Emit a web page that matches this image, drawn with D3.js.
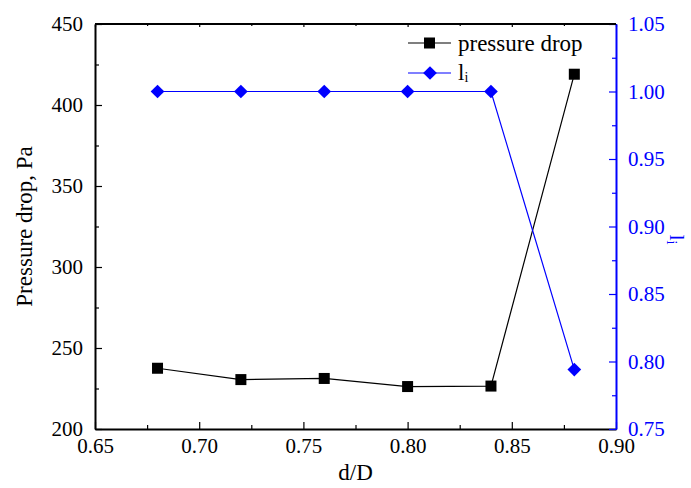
<!DOCTYPE html>
<html>
<head>
<meta charset="utf-8">
<script src="https://cdn.jsdelivr.net/npm/d3@7"></script>
<style>
  html, body { margin: 0; padding: 0; background: #fff; }
  svg { display: block; }
  svg text { font-family: "Liberation Serif", "Times New Roman", serif; }
</style>
</head>
<body>
<svg id="chart" width="691" height="488"></svg>
<script>
// Diameter ratio d/D
const ratios = [0.68, 0.72, 0.76, 0.80, 0.84, 0.88];
// Pressure drop (Pa)
const pressureDrop = [237.5, 230.5, 231.2, 226.2, 226.5, 419];
// l_i index
const liValues = [1.00, 1.00, 1.00, 1.00, 1.00, 0.794];

const xTicks = [0.65, 0.70, 0.75, 0.80, 0.85, 0.90];
const yLeftTicks = [200, 250, 300, 350, 400, 450];
const yRightTicks = [0.75, 0.80, 0.85, 0.90, 0.95, 1.00, 1.05];

const BLUE = "#0000ff";
const FONT = "Liberation Serif, Times New Roman, serif";
const svg = d3.select("#chart");
const m = { left: 95, right: 616, top: 24, bottom: 429 };

const x = d3.scaleLinear().domain([0.65, 0.90]).range([m.left, m.right]);
const yL = d3.scaleLinear().domain([200, 450]).range([m.bottom, m.top]);
const yR = d3.scaleLinear().domain([0.75, 1.05]).range([m.bottom, m.top]);

const minor = (ticks) => d3.range(ticks.length - 1).map(i => (ticks[i] + ticks[i + 1]) / 2);

// Bottom axis: inward ticks
const gB = svg.append("g").attr("transform", `translate(0,${m.bottom})`)
  .call(d3.axisBottom(x).tickValues(xTicks).tickFormat(d3.format(".2f")).tickSizeInner(-7).tickSizeOuter(0).tickPadding(12));
gB.selectAll("text").attr("font-size", 21).attr("fill", "#000").attr("dy", "0.55em");
svg.append("g").attr("transform", `translate(0,${m.bottom})`)
  .call(d3.axisBottom(x).tickValues(minor(xTicks)).tickSizeInner(-4).tickSizeOuter(0).tickFormat(""));

// Top axis: ticks only
svg.append("g").attr("transform", `translate(0,${m.top})`)
  .call(d3.axisTop(x).tickValues(xTicks).tickSizeInner(-3).tickSizeOuter(0).tickFormat(""));
svg.append("g").attr("transform", `translate(0,${m.top})`)
  .call(d3.axisTop(x).tickValues(minor(xTicks)).tickSizeInner(-2).tickSizeOuter(0).tickFormat(""));

// Left axis
const gL = svg.append("g").attr("transform", `translate(${m.left},0)`)
  .call(d3.axisLeft(yL).tickValues(yLeftTicks).tickSizeInner(-7).tickSizeOuter(0).tickPadding(12));
gL.selectAll("text").attr("font-size", 21).attr("fill", "#000");
svg.append("g").attr("transform", `translate(${m.left},0)`)
  .call(d3.axisLeft(yL).tickValues(minor(yLeftTicks)).tickSizeInner(-4).tickSizeOuter(0).tickFormat(""));

// Right axis (blue)
const gR = svg.append("g").attr("transform", `translate(${m.right},0)`)
  .call(d3.axisRight(yR).tickValues(yRightTicks).tickFormat(d3.format(".2f")).tickSizeInner(-7).tickSizeOuter(0).tickPadding(12));
gR.selectAll("text").attr("font-size", 21).attr("fill", BLUE);
const gRm = svg.append("g").attr("transform", `translate(${m.right},0)`)
  .call(d3.axisRight(yR).tickValues(minor(yRightTicks)).tickSizeInner(-4).tickSizeOuter(0).tickFormat(""));
[gR, gRm].forEach(g => { g.selectAll("line").attr("stroke", BLUE); g.select(".domain").attr("stroke", BLUE); });
gR.select(".domain").attr("stroke-width", 2);

[gB, gL].forEach(g => g.select(".domain").attr("stroke-width", 2));
svg.selectAll(".tick line").attr("stroke-width", 1.2);
svg.selectAll("g").attr("font-family", FONT);
svg.selectAll(".tick text").style("font-family", FONT);

// Axis titles
svg.append("text").attr("x", (m.left + m.right) / 2).attr("y", 480)
  .attr("text-anchor", "middle").attr("font-size", 23).text("d/D");
svg.append("text").attr("transform", `translate(32,${(m.top + m.bottom) / 2}) rotate(-90)`)
  .attr("text-anchor", "middle").attr("font-size", 23).text("Pressure drop, Pa");
const rt = svg.append("text").attr("transform", `translate(670,${(m.top + m.bottom) / 2 + 13}) rotate(90)`)
  .attr("text-anchor", "middle").attr("font-size", 22).attr("fill", BLUE);
rt.append("tspan").text("l");
rt.append("tspan").attr("font-size", 14).attr("dy", 3).text("i");

// Pressure drop series
const lineP = d3.line().x((d, i) => x(ratios[i])).y(d => yL(d));
svg.append("path").datum(pressureDrop).attr("d", lineP)
  .attr("fill", "none").attr("stroke", "#000").attr("stroke-width", 1.2);
svg.selectAll(".sq").data(pressureDrop).enter().append("rect")
  .attr("x", (d, i) => x(ratios[i]) - 5.5).attr("y", d => yL(d) - 5.5)
  .attr("width", 11).attr("height", 11).attr("fill", "#000");

// l_i series
const lineL = d3.line().x((d, i) => x(ratios[i])).y(d => yR(d));
svg.append("path").datum(liValues).attr("d", lineL)
  .attr("fill", "none").attr("stroke", BLUE).attr("stroke-width", 1.2);
const diamond = d3.symbol().type(d3.symbolDiamond2).size(120);
svg.selectAll(".dm").data(liValues).enter().append("path")
  .attr("d", diamond)
  .attr("transform", (d, i) => `translate(${x(ratios[i])},${yR(d)})`)
  .attr("fill", BLUE);

// Legend
const lg = svg.append("g");
lg.append("line").attr("x1", 408).attr("x2", 451).attr("y1", 43).attr("y2", 43).attr("stroke", "#000").attr("stroke-width", 1.2);
lg.append("rect").attr("x", 424).attr("y", 37.5).attr("width", 11).attr("height", 11).attr("fill", "#000");
lg.append("text").attr("x", 458).attr("y", 51).attr("font-size", 23).text("pressure drop");
lg.append("line").attr("x1", 408).attr("x2", 451).attr("y1", 73).attr("y2", 73).attr("stroke", BLUE).attr("stroke-width", 1.2);
lg.append("path").attr("d", diamond).attr("transform", "translate(430,73)").attr("fill", BLUE);
const lt = lg.append("text").attr("x", 458).attr("y", 80).attr("font-size", 23);
lt.append("tspan").text("l");
lt.append("tspan").attr("font-size", 14).attr("dy", 2).text("i");

// Top frame line
svg.append("line").attr("x1", m.left).attr("x2", m.right).attr("y1", m.top).attr("y2", m.top)
  .attr("stroke", "#000").attr("stroke-width", 2);
</script>
</body>
</html>
